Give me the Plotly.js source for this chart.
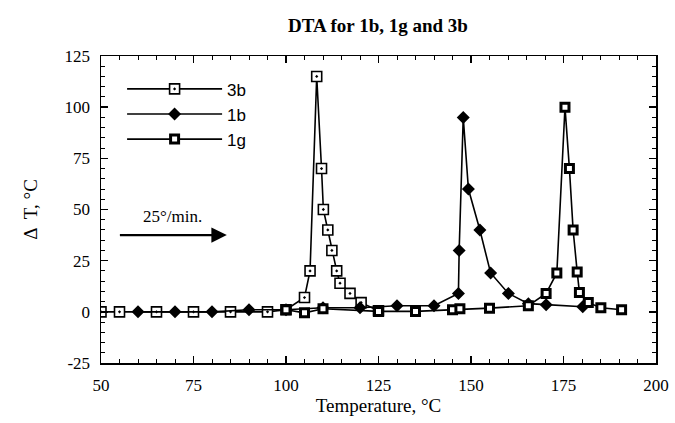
<!DOCTYPE html>
<html>
<head>
<meta charset="utf-8">
<script src="https://cdn.plot.ly/plotly-3.0.1.min.js"></script>
<style>html,body{margin:0;padding:0;background:#fff;}#chart{width:675px;height:423px;}</style>
</head>
<body>
<div id="chart"></div>
<script>
// Series 3b (open squares)
const x3b = [50, 55, 65, 75, 85, 95, 100, 105, 106.5, 108.3, 109.6, 110.1, 111.3, 112.4, 113.7, 114.6, 117.3, 120.3, 125];
const y3b = [0, 0, 0, 0, 0, 0, 1, 7, 20, 115, 70, 50, 40, 30, 20, 14, 9, 4.5, 0.5];
// Series 1b (filled diamonds)
const x1b = [60, 70, 80, 90, 100, 110, 120, 130, 140, 146.6, 146.8, 147.9, 149.3, 152.4, 155.3, 160.1, 165.5, 170.3, 180.2];
const y1b = [0, 0, 0, 1, 1, 2, 2, 3, 3, 9, 30, 95, 60, 40, 19, 9, 4, 3.5, 2.5];
// Series 1g (bold squares)
const x1g = [100, 105, 110, 125, 135, 145, 147, 155, 165.5, 170.3, 173.2, 175.4, 176.6, 177.6, 178.7, 179.3, 181.7, 185.1, 190.7];
const y1g = [1, -0.5, 1.5, 0.2, 0.2, 1, 1.5, 1.8, 3, 9, 19, 100, 70, 40, 19.5, 9.5, 4.5, 2, 1];
const xTicks = [50, 75, 100, 125, 150, 175, 200];
const yTicks = [-25, 0, 25, 50, 75, 100, 125];

const traces = [
  {name: '3b', x: x3b, y: y3b, mode: 'lines+markers', type: 'scatter',
   line: {color: '#000', width: 1.6},
   marker: {symbol: 'square-dot', size: 10, color: '#fff', line: {color: '#000', width: 1.6}}},
  {name: '1b', x: x1b, y: y1b, mode: 'lines+markers', type: 'scatter',
   line: {color: '#000', width: 1.6},
   marker: {symbol: 'diamond', size: 10, color: '#000', line: {color: '#000', width: 0}}},
  {name: '1g', x: x1g, y: y1g, mode: 'lines+markers', type: 'scatter',
   line: {color: '#000', width: 1.6},
   marker: {symbol: 'square', size: 8, color: '#fff', line: {color: '#000', width: 3}}}
];

const serif = 'Liberation Serif, Times New Roman, serif';
const axisCommon = {
  showgrid: false, zeroline: false, showline: true, linecolor: '#000', linewidth: 1.5,
  mirror: 'allticks', ticks: 'inside', ticklen: 7, tickwidth: 1.5, tickcolor: '#000',
  tickfont: {family: serif, size: 17, color: '#000'}, ticklabelstandoff: 6,
  minor: {dtick: 5, ticks: 'inside', ticklen: 4, tickwidth: 1, tickcolor: '#000'}
};

const layout = {
  width: 675, height: 423,
  margin: {l: 101, r: 19, t: 56, b: 60},
  paper_bgcolor: '#fff', plot_bgcolor: '#fff',
  title: {text: '<b>DTA for 1b, 1g and 3b</b>', font: {family: serif, size: 19, color: '#000'},
          x: 0.56, xanchor: 'center', y: 0.955, yanchor: 'top'},
  xaxis: Object.assign({}, axisCommon, {range: [50, 200], tickvals: xTicks, ticktext: xTicks.map(String),
    title: {text: 'Temperature, °C', font: {family: serif, size: 19, color: '#000'}, standoff: 2}}),
  yaxis: Object.assign({}, axisCommon, {range: [-25, 125], tickvals: yTicks, ticktext: yTicks.map(String),
    title: {text: 'Δ  T, °C', font: {family: serif, size: 19, color: '#000'}, standoff: 22}}),
  showlegend: true,
  legend: {x: 0.038, y: 0.95, xanchor: 'left', yanchor: 'top', bgcolor: 'rgba(0,0,0,0)',
           font: {family: 'Liberation Sans, Arial, sans-serif', size: 17, color: '#000'},
           itemwidth: 95, tracegroupgap: 0},
  annotations: [
    {x: 84, y: 37.5, ax: 54.7, ay: 37.5, xref: 'x', yref: 'y', axref: 'x', ayref: 'y',
     showarrow: true, arrowhead: 2, arrowsize: 1.4, arrowwidth: 2.2, arrowcolor: '#000', text: ''},
    {x: 69.2, y: 46.5, xref: 'x', yref: 'y', showarrow: false, text: '25°/min.',
     font: {family: serif, size: 17, color: '#000'}}
  ]
};

Plotly.newPlot('chart', traces, layout, {displayModeBar: false, staticPlot: true});
</script>
</body>
</html>
